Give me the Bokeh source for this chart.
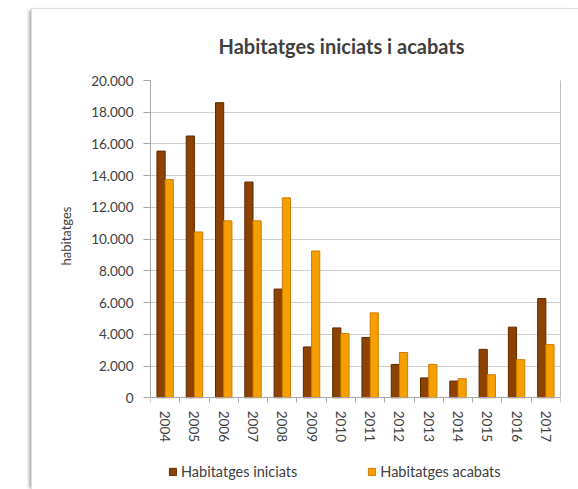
import numpy as np
from bokeh.plotting import figure
from bokeh.models import (FixedTicker, Legend, LegendItem, ColumnDataSource, Range1d,
                          LinearAxis, Title)
from bokeh.embed import file_html
from bokeh.resources import INLINE

title_text = "Habitatges iniciats i acabats"
y_label = "habitatges"
years = ["2004", "2005", "2006", "2007", "2008", "2009", "2010",
         "2011", "2012", "2013", "2014", "2015", "2016", "2017"]
iniciats = [15550, 16500, 18600, 13600, 6850, 3200, 4400,
            3800, 2100, 1250, 1050, 3050, 4450, 6250]
acabats = [13750, 10450, 11150, 11150, 12600, 9250, 4050,
           5350, 2850, 2100, 1200, 1450, 2400, 3350]
y_ticks = [0, 2000, 4000, 6000, 8000, 10000, 12000, 14000, 16000, 18000, 20000]
y_tick_labels = ["0", "2.000", "4.000", "6.000", "8.000", "10.000", "12.000",
                 "14.000", "16.000", "18.000", "20.000"]
series_names = ["Habitatges iniciats", "Habitatges acabats"]

FONT = "Lato"
TXT = "#404040"
C_INI, C_INI_EDGE = "#8E4200", "#5E2A00"
C_ACA, C_ACA_EDGE = "#F5A000", "#D07C00"

# layout (pixels): plot area top, zero line, and figure bottom
PX_TOP, PX_ZERO, PX_BOTTOM = 79, 397, 489
Y_MAX = y_ticks[-1]
y_start = -(PX_BOTTOM - PX_ZERO) * Y_MAX / (PX_ZERO - PX_TOP)

idx = np.arange(len(years))
centers = idx + 0.5
src = ColumnDataSource(dict(xi=centers - 0.14, xa=centers + 0.14,
                            ini=iniciats, aca=acabats))

p = figure(width=546, height=480, output_backend="svg", toolbar_location=None,
           x_range=Range1d(0, len(years)), y_range=Range1d(y_start, Y_MAX),
           min_border_left=118, min_border_right=18, min_border_top=70,
           min_border_bottom=0)
p.styles = {"margin-left": "32px", "margin-top": "9px",
            "box-shadow": "-4px 0 3px -1px #aaaaaa", "outline": "1px solid #dddddd"}
p.background_fill_color = "white"
p.border_fill_color = "white"
p.outline_line_color = None

p.title.text = title_text
p.title.align = "left"
p.title.offset = 68
p.title.text_font = FONT
p.title.text_font_size = "20px"
p.title.text_font_style = "bold"
p.title.text_color = TXT
p.title.standoff = 45

r1 = p.vbar(x="xi", top="ini", width=0.28, source=src, fill_color=C_INI,
            line_color=C_INI_EDGE, line_width=1)
r2 = p.vbar(x="xa", top="aca", width=0.28, source=src, fill_color=C_ACA,
            line_color=C_ACA_EDGE, line_width=1)

# y axis
p.yaxis.ticker = FixedTicker(ticks=y_ticks)
p.yaxis.bounds = (0, Y_MAX)
p.yaxis.major_label_overrides = {t: l for t, l in zip(y_ticks, y_tick_labels)}
p.yaxis.major_label_text_font = FONT
p.yaxis.major_label_text_font_size = "13.5px"
p.yaxis.major_label_text_color = TXT
p.yaxis.major_tick_out = 7
p.yaxis.major_tick_in = 0
p.yaxis.minor_tick_out = 0
p.yaxis.minor_tick_in = 0
p.yaxis.major_label_standoff = 10
p.yaxis.axis_line_color = "#A6A6A6"
p.yaxis.major_tick_line_color = "#A6A6A6"

# y axis title, placed beside the 0..20000 part of the axis
p.add_layout(Title(text=y_label, align="right", offset=126, standoff=30,
                   text_font=FONT, text_font_size="13px", text_font_style="normal",
                   text_color=TXT), "left")

# right border of the plot area
right = LinearAxis(ticker=FixedTicker(ticks=[]), bounds=(0, Y_MAX),
                   axis_line_color="#BFBFBF", major_tick_out=0, minor_tick_out=0,
                   major_tick_in=0, minor_tick_in=0)
p.add_layout(right, "right")

# x axis, placed at y = 0
p.xaxis.fixed_location = 0
p.xaxis.ticker = FixedTicker(ticks=list(centers), minor_ticks=list(range(len(years) + 1)))
p.xaxis.major_label_overrides = {float(c): y for c, y in zip(centers, years)}
p.xaxis.major_label_orientation = "vertical"
p.xaxis.major_label_text_font = FONT
p.xaxis.major_label_text_font_size = "13.5px"
p.xaxis.major_label_text_color = TXT
p.xaxis.major_tick_out = 0
p.xaxis.major_tick_in = 0
p.xaxis.minor_tick_out = 5
p.xaxis.minor_tick_in = 0
p.xaxis.major_label_standoff = 8
p.xaxis.axis_line_color = "#A6A6A6"
p.xaxis.minor_tick_line_color = "#A6A6A6"

p.xgrid.grid_line_color = None
p.ygrid.ticker = FixedTicker(ticks=y_ticks)
p.ygrid.grid_line_color = "#D0D0D0"

legend = Legend(items=[LegendItem(label=series_names[0], renderers=[r1]),
                       LegendItem(label=series_names[1], renderers=[r2])],
                orientation="horizontal", location=(18, 9),
                glyph_width=9, glyph_height=9, label_standoff=4, spacing=70,
                padding=0, margin=0, border_line_color=None,
                background_fill_alpha=0,
                label_text_font=FONT, label_text_font_size="14.5px",
                label_text_color=TXT)
p.add_layout(legend, "center")

open("out.html", "w").write(file_html(p, INLINE))
